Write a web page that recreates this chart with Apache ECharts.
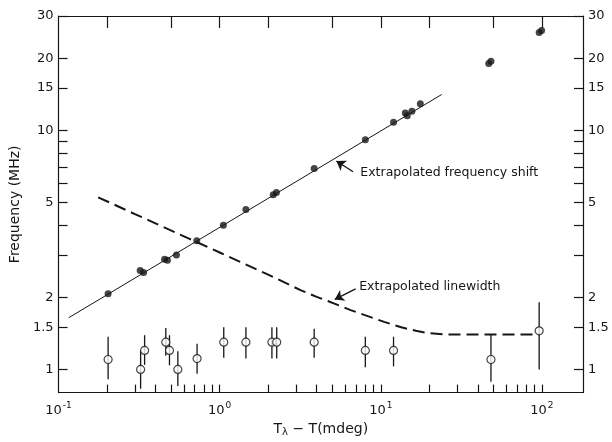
<!DOCTYPE html>
<html>
<head>
<meta charset="utf-8">
<script src="https://cdn.jsdelivr.net/npm/echarts@6/dist/echarts.min.js"></script>
<style>
  html, body { margin: 0; padding: 0; background: #fff; }
  #chart { width: 612px; height: 442px; }
</style>
</head>
<body>
<div id="chart"></div>
<script>
// tick positions / labels
const xMinorTicks = [0.2, 0.3, 0.4, 0.5, 0.6, 0.7, 0.8, 0.9, 1, 2, 3, 4, 5, 6, 7, 8, 9, 10,
  20, 30, 40, 50, 60, 70, 80, 90, 100]
const xTopTicks = [0.2, 0.5, 1, 2, 5, 10, 20, 50, 100]
const xLabels = [0.1, 1, 10, 100]
const yTicks = [1, 1.5, 2, 3, 4, 5, 6, 7, 8, 9, 10, 15, 20, 30]
const yLabels = [1, 1.5, 2, 5, 10, 15, 20, 30]

// frequency shift (filled dots)
const shiftX = [0.203, 0.321, 0.337, 0.455, 0.474, 0.539, 0.721, 1.054, 1.455, 2.15, 2.25,
  3.86, 8.02, 12.0, 14.2, 14.6, 15.6, 17.6, 46.8, 48.3, 96.2, 99.6]
const shiftY = [2.07, 2.59, 2.54, 2.89, 2.86, 3.01, 3.45, 4.0, 4.66, 5.37, 5.49,
  6.92, 9.12, 10.8, 11.8, 11.5, 12.0, 12.9, 19.0, 19.4, 25.6, 26.1]

// linewidth (open circles with error bars)
const widthX = [0.203, 0.323, 0.342, 0.463, 0.488, 0.55, 0.724, 1.06, 1.455, 2.11, 2.26,
  3.86, 8.02, 12.0, 48.3, 96.2]
const widthY = [1.10, 1.00, 1.20, 1.30, 1.20, 1.00, 1.11, 1.30, 1.30, 1.30, 1.30,
  1.30, 1.20, 1.20, 1.10, 1.45]
const widthLo = [0.91, 0.83, 1.045, 1.14, 1.04, 0.853, 0.96, 1.12, 1.11, 1.11, 1.11,
  1.12, 1.02, 1.03, 0.887, 1.0]
const widthHi = [1.37, 1.20, 1.39, 1.49, 1.39, 1.19, 1.28, 1.50, 1.50, 1.50, 1.50,
  1.48, 1.37, 1.37, 1.40, 1.91]

// extrapolated frequency shift (solid line)
const fitX = [0.1157, 23.9]
const fitY = [1.645, 14.1]

// extrapolated linewidth (dashed curve)
const dashX = [0.176, 0.3, 0.64, 1.0, 2.0, 3.2, 4.0, 5.2, 6.5, 8.3, 10.5, 13.4, 16.5, 19.6, 25, 96]
const dashY = [5.24, 4.45, 3.53, 3.08, 2.49, 2.14, 2.01, 1.88, 1.77, 1.67, 1.58, 1.50, 1.45, 1.42, 1.40, 1.40]

const ink = '#161616'
const font = 'DejaVu Sans'

const zip = (a, b) => a.map((v, i) => [v, b[i]])

const chart = echarts.init(document.getElementById('chart'))

function xLabelFmt(v) {
  const e = Math.round(Math.log10(v))
  return '{b|10}{s|' + e + '}'
}

const xRich = {
  b: { fontSize: 13, fontFamily: font, color: ink },
  s: { fontSize: 9, fontFamily: font, color: ink, padding: [0, 0, 9, 1] }
}

const baseX = {
  type: 'log',
  logBase: 10,
  min: 0.1,
  max: 180,
  splitLine: { show: false },
  axisLine: { lineStyle: { color: ink, width: 1.2 } }
}

const baseY = {
  type: 'log',
  logBase: 10,
  min: 0.8,
  max: 30,
  splitLine: { show: false },
  axisLine: { lineStyle: { color: ink, width: 1.2 } },
  axisTick: { inside: true, length: 9, customValues: yTicks, lineStyle: { color: ink, width: 1.2 } },
  axisLabel: {
    customValues: yLabels,
    margin: 5,
    fontSize: 13,
    fontFamily: font,
    color: ink,
    formatter: v => String(v)
  }
}

chart.setOption({
  animation: false,
  backgroundColor: '#fff',
  grid: { left: 58, right: 29, top: 16, bottom: 44 },
  xAxis: [
    {
      ...baseX,
      position: 'bottom',
      name: '{t|T}{sub|λ}{t| − T(mdeg)}',
      nameLocation: 'middle',
      nameGap: 27,
      nameTextStyle: {
        rich: {
          t: { fontSize: 14, fontFamily: font, color: ink },
          sub: { fontSize: 10, fontFamily: font, color: ink, padding: [6, 0, 0, 0] }
        }
      },
      axisTick: { inside: true, length: 8, customValues: xMinorTicks, lineStyle: { color: ink, width: 1.2 } },
      axisLabel: { customValues: xLabels, margin: 9, formatter: xLabelFmt, rich: xRich }
    },
    {
      ...baseX,
      position: 'top',
      axisTick: { inside: true, length: 12, customValues: xTopTicks, lineStyle: { color: ink, width: 1.2 } },
      axisLabel: { show: false }
    }
  ],
  yAxis: [
    {
      ...baseY,
      position: 'left',
      name: 'Frequency (MHz)',
      nameLocation: 'middle',
      nameGap: 27,
      nameTextStyle: { fontSize: 14, fontFamily: font, color: ink }
    },
    { ...baseY, position: 'right' }
  ],
  series: [
    {
      name: 'fit',
      type: 'line',
      data: zip(fitX, fitY),
      symbol: 'none',
      lineStyle: { color: ink, width: 1 },
      z: 2,
      markLine: {
        silent: true,
        symbol: ['none', 'arrow'],
        symbolSize: 9,
        label: { show: false },
        lineStyle: { color: ink, width: 1.4, type: 'solid' },
        data: [
          [{ coord: [6.73, 6.70] }, { coord: [5.30, 7.43] }],
          [
            { coord: [6.98, 2.17], lineStyle: { curveness: -0.3 } },
            { coord: [5.18, 1.96], lineStyle: { curveness: -0.3 } }
          ]
        ]
      },
      markPoint: {
        silent: true,
        symbol: 'circle',
        symbolSize: 0,
        label: {
          show: true,
          position: 'right',
          distance: 1,
          fontSize: 12.5,
          fontFamily: font,
          color: ink,
          formatter: p => p.name
        },
        data: [
          { name: 'Extrapolated frequency shift', coord: [7.36, 6.64] },
          { name: 'Extrapolated linewidth', coord: [7.24, 2.21] }
        ]
      }
    },
    {
      name: 'dash',
      type: 'line',
      data: zip(dashX, dashY),
      symbol: 'none',
      lineStyle: { color: ink, width: 2, type: [12, 6] },
      z: 2
    },
    {
      name: 'errbar',
      type: 'custom',
      data: widthX.map((x, i) => [x, widthLo[i], widthHi[i]]),
      encode: { x: 0, y: [1, 2] },
      renderItem(params, api) {
        const x = api.value(0)
        const a = api.coord([x, api.value(1)])
        const b = api.coord([x, api.value(2)])
        return {
          type: 'line',
          shape: { x1: a[0], y1: a[1], x2: b[0], y2: b[1] },
          style: { stroke: ink, lineWidth: 1.3 }
        }
      },
      z: 3
    },
    {
      name: 'width',
      type: 'scatter',
      data: zip(widthX, widthY),
      symbol: 'circle',
      symbolSize: 8,
      itemStyle: { color: '#fff', borderColor: ink, borderWidth: 1.2 },
      z: 4
    },
    {
      name: 'shift',
      type: 'scatter',
      data: zip(shiftX, shiftY),
      symbol: 'circle',
      symbolSize: 7,
      itemStyle: { color: ink },
      z: 5
    }
  ]
})
</script>
</body>
</html>
